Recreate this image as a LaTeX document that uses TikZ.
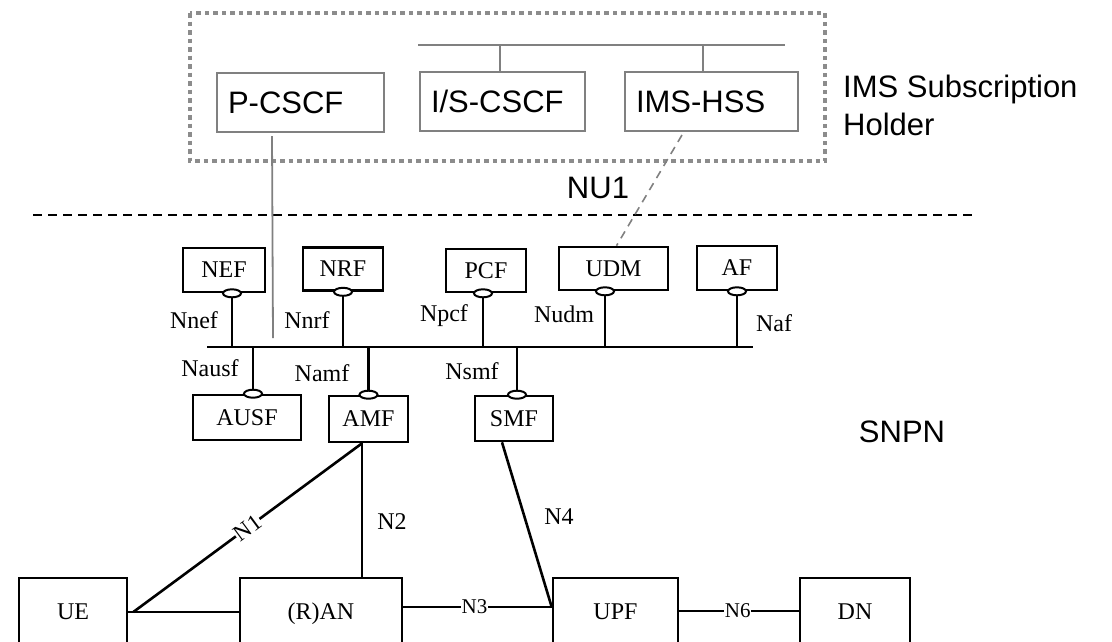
\documentclass[tikz,border=0pt]{standalone}
\usepackage{fontspec}
\setmainfont{Liberation Serif}
\newfontfamily\arialf{Liberation Sans}
\usetikzlibrary{calc,shapes.geometric}
\definecolor{imsgray}{HTML}{808080}
\definecolor{dotgray}{HTML}{8C8C8C}
\begin{document}
\begin{tikzpicture}[x=1pt,y=-1pt,
  imsbox/.style={draw=imsgray, line width=2pt, font=\arialf\fontsize{31}{37}\selectfont,
    inner xsep=11pt, inner ysep=0pt, align=left, text height=22.2pt, text depth=0pt},
  arialtxt/.style={font=\arialf\fontsize{31}{37}\selectfont, inner sep=0pt},
  nfbox/.style={draw=black, line width=2.6pt, font=\fontsize{24}{28}\selectfont, inner sep=0pt,
    text height=15.9pt, text depth=0pt},
  lbl/.style={font=\fontsize{24}{28}\selectfont, inner sep=0pt},
  slbl/.style={font=\fontsize{21}{24}\selectfont, inner sep=0.5pt, fill=white},
  port/.style={ellipse, draw=black, fill=white, line width=2pt, minimum width=18pt, minimum height=8pt, inner sep=0pt},
  blk/.style={draw=black, line width=2.6pt},
  thinblk/.style={draw=black, line width=1.4pt},
  graylink/.style={draw=imsgray, line width=2pt},
]
\useasboundingbox (0,0) rectangle (1112,641);
\clip (0,0) rectangle (1112,641);

% ---------- IMS subscription holder ----------
\draw[dotgray, line width=4.5pt, dash pattern=on 4.5pt off 4pt] (190,13) rectangle (825,161);
\node[imsbox, text width=145pt, minimum height=59pt] (pcscf) at (300.5,102.5) {P-CSCF};
\node[imsbox, text width=143pt, minimum height=59pt] (iscscf) at (502.5,101.5) {I/S-CSCF};
\node[imsbox, text width=151pt, minimum height=59pt] (imshss) at (711.5,101.5) {IMS-HSS};
\coordinate (imsbl) at (418,45);
\coordinate (imsbr) at (785,45);
\coordinate (istop) at (500,45);
\coordinate (hsstop) at (703,45);
\draw[graylink] (imsbl) -- (imsbr);
\draw[graylink] (istop) -- (istop |- iscscf.north);
\draw[graylink] (hsstop) -- (hsstop |- imshss.north);
\node[arialtxt, anchor=base west] (hold1) at (843,97) {IMS Subscription};
\node[arialtxt, anchor=base west] (hold2) at (843,135) {Holder};

% ---------- divider ----------
\coordinate (divl) at (33,215);
\coordinate (divr) at (972,215);
\draw[black, line width=1.8pt, dash pattern=on 9pt off 6pt] (divl) -- (divr);
\node[arialtxt] (nu1) at (598,188) {NU1};
\node[arialtxt] (snpn) at (902,432) {SNPN};

% ---------- SBA ----------
\node[nfbox, minimum width=82pt, minimum height=44pt] (nef) at (224,270) {NEF};
\node[nfbox, minimum width=80pt, minimum height=43pt] (nrf) at (343,269) {NRF};
\node[nfbox, minimum width=80pt, minimum height=43pt] (pcf) at (486,270.5) {PCF};
\node[nfbox, minimum width=109pt, minimum height=43pt] (udm) at (613.5,268.5) {UDM};
\node[nfbox, minimum width=80pt, minimum height=44pt] (af) at (737,268) {AF};
\node[nfbox, minimum width=108pt, minimum height=45pt] (ausf) at (247,417.5) {AUSF};
\node[nfbox, minimum width=79pt, minimum height=46pt] (amf) at (368.5,419) {AMF};
\node[nfbox, minimum width=78pt, minimum height=45pt] (smf) at (514,418.5) {SMF};

\coordinate (busl) at (207,347);
\coordinate (busr) at (753,347);
\draw[blk] (busl) -- (busr);

\coordinate (pnefc) at ($(nef.south)+(8,0)$);
\coordinate (pnrfc) at (nrf.south);
\coordinate (ppcfc) at ($(pcf.south)+(-3,0)$);
\coordinate (pudmc) at ($(udm.south)+(-8.5,0)$);
\coordinate (pafc) at (af.south);
\coordinate (pausfc) at ($(ausf.north)+(6,0)$);
\coordinate (pamfc) at (amf.north);
\coordinate (psmfc) at ($(smf.north)+(3,0)$);
\foreach \p in {pnefc,pnrfc,ppcfc,pudmc,pafc,pausfc,pamfc,psmfc}{
  \draw[blk] (\p) -- (\p |- busl);
  \node[port] at (\p) {};
}

\node[lbl] (lnef) at (194,320) {Nnef};
\node[lbl] (lnrf) at (307,320) {Nnrf};
\node[lbl] (lpcf) at (444,316) {Npcf};
\node[lbl] (ludm) at (564,314) {Nudm};
\node[lbl] (laf) at (774,323) {Naf};
\node[lbl] (lausf) at (210,368) {Nausf};
\node[lbl] (lamf) at (322,373) {Namf};
\node[lbl] (lsmf) at (472,371) {Nsmf};

% ---------- IMS to SNPN links ----------
\coordinate (pcscfend) at (273,338);
\draw[draw=imsgray, line width=1.8pt] ($(pcscf.south west)+(56,3)$) -- (pcscfend);
\draw[draw=imsgray, line width=1.6pt, dash pattern=on 8pt off 6pt] ($(imshss.south west)+(58,3)$) -- ($(udm.north)+(3,0)$);

% ---------- user plane ----------
\node[nfbox, minimum width=108pt, minimum height=68pt] (ue) at (73,612) {UE};
\node[nfbox, minimum width=162pt, minimum height=68pt] (ran) at (321,612) {(R)AN};
\node[nfbox, minimum width=125pt, minimum height=68pt] (upf) at (615.5,612) {UPF};
\node[nfbox, minimum width=110pt, minimum height=68pt] (dn) at (855,612) {DN};

\coordinate (amfb) at ($(amf.south)+(-6.5,0)$);
\coordinate (smfb) at ($(smf.south)+(-12,0)$);
\coordinate (upfn) at ($(upf.west)+(0,-5)$);
\draw[blk] (ue.east) -- (ran.west);
\draw[blk] (amfb) -- node[slbl, sloped, pos=0.5, font=\fontsize{23}{26}\selectfont] (ln1) {N1} ($(ue.east)+(5,0)$);
\draw[blk] (amfb) -- (amfb |- ran.north);
\node[lbl] (ln2) at (392,522) {N2};
\draw[blk] (smfb) -- (upfn);
\node[lbl] (ln4) at (559,517) {N4};
\draw[blk] (ran.east |- upfn) -- node[slbl, pos=0.48] (ln3) {N3} (upfn);
\draw[thinblk] ($(upf.east)+(0,-1)$) -- node[slbl, pos=0.49] (ln6) {N6} ($(dn.west)+(0,-1)$);
\end{tikzpicture}
\end{document}
